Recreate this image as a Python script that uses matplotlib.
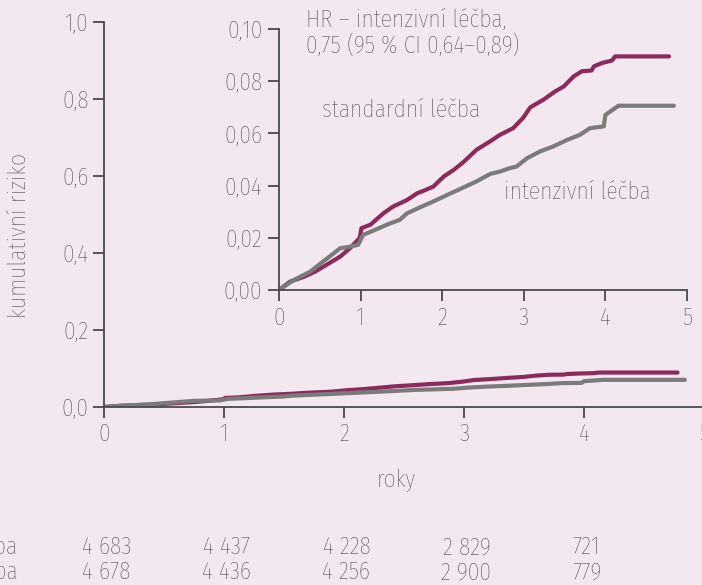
import numpy as np
import matplotlib
matplotlib.use("Agg")
import matplotlib.pyplot as plt

# cumulative risk (years, risk)
std_years = [0, 0.135, 0.30, 0.44, 0.58, 0.75, 0.87, 0.99, 1.01, 1.12, 1.28, 1.40, 1.57, 1.69,
             1.77, 1.89, 2.02, 2.14, 2.26, 2.42, 2.59, 2.71, 2.87, 2.99, 3.08, 3.24, 3.38,
             3.49, 3.61, 3.71, 3.83, 3.86, 3.96, 4.08, 4.12, 4.78]
std_risk = [0, 0.0032, 0.0050, 0.0070, 0.0096, 0.0128, 0.0160, 0.0200, 0.0237, 0.0250, 0.0294,
            0.0320, 0.0345, 0.0370, 0.0380, 0.0396, 0.0435, 0.0460, 0.0490, 0.0537, 0.0570,
            0.0595, 0.0620, 0.0659, 0.0700, 0.0729, 0.0760, 0.0780, 0.0818, 0.0838, 0.0841,
            0.0857, 0.0870, 0.0879, 0.0895, 0.0895]

int_years = [0, 0.18, 0.38, 0.54, 0.75, 0.87, 0.97, 1.03, 1.16, 1.32, 1.48, 1.57, 1.73, 1.89,
             2.06, 2.22, 2.42, 2.59, 2.71, 2.83, 2.91, 3.04, 3.20, 3.36, 3.53, 3.69, 3.81,
             3.98, 4.00, 4.06, 4.16, 4.84]
int_risk = [0, 0.0038, 0.0070, 0.0109, 0.0160, 0.0166, 0.0173, 0.0211, 0.0228, 0.0250, 0.0269,
            0.0294, 0.0317, 0.0339, 0.0364, 0.0387, 0.0416, 0.0445, 0.0454, 0.0467, 0.0473,
            0.0505, 0.0531, 0.0550, 0.0575, 0.0595, 0.0620, 0.0627, 0.0671, 0.0684, 0.0706,
            0.0706]

# numbers at risk
risk_years = [0, 1, 2, 3, 4]
at_risk_std = ["4 683", "4 437", "4 228", "2 829", "721"]
at_risk_int = ["4 678", "4 436", "4 256", "2 900", "779"]
group_labels = ["standardní léčba", "intenzivní léčba"]

bg = "#f3e8ef"
col_std = "#8c2a5c"
col_int = "#7b7b7b"
txt = "#3a3a3a"
axcol = "#4a4a4a"
fs = 17

plt.rcParams['font.family'] = ['Fira Sans Condensed', 'Roboto Condensed', 'DejaVu Sans']
plt.rcParams['font.weight'] = 'light'
plt.rcParams['text.color'] = txt
plt.rcParams['xtick.color'] = axcol
plt.rcParams['ytick.color'] = axcol
plt.rcParams['xtick.labelcolor'] = txt
plt.rcParams['ytick.labelcolor'] = txt

fig = plt.figure(figsize=(7.02, 5.85), dpi=100, facecolor=bg)

# main axes
ax = fig.add_axes([104/702, 1 - 407/585, 600/702, 385/585])
ax.set_facecolor(bg)
ax.plot(std_years, std_risk, color=col_std, lw=3, solid_capstyle='round')
ax.plot(int_years, int_risk, color=col_int, lw=3, solid_capstyle='round')
ax.set_xlim(0, 5)
ax.set_ylim(0, 1.0)
ax.set_xticks([0, 1, 2, 3, 4, 5])
ax.set_yticks([0, 0.2, 0.4, 0.6, 0.8, 1.0])
ax.set_yticklabels(["0,0", "0,2", "0,4", "0,6", "0,8", "1,0"])
for s in ["top", "right"]:
    ax.spines[s].set_visible(False)
for s in ["left", "bottom"]:
    ax.spines[s].set_color(axcol)
    ax.spines[s].set_linewidth(1.3)
ax.tick_params(length=8, width=1.3, labelsize=fs, pad=3)

ax.text(2.43, -0.19, "roky", ha='center', va='center', fontsize=fs)
fig.text(19/702, 1 - 235/585, "kumulativní riziko", rotation=90,
         ha='center', va='center', fontsize=fs)

# numbers at risk table
for i, x in enumerate(risk_years):
    ax.text(x + 0.02, -0.365, at_risk_std[i], ha='center', va='center', fontsize=fs)
    ax.text(x + 0.02, -0.43, at_risk_int[i], ha='center', va='center', fontsize=fs)
ax.text(-0.72, -0.365, group_labels[0], ha='right', va='center', fontsize=fs)
ax.text(-0.72, -0.43, group_labels[1], ha='right', va='center', fontsize=fs)

# inset
ins = fig.add_axes([279/702, 1 - 290/585, 408/702, 261/585])
ins.set_facecolor('none')
ins.plot(std_years, std_risk, color=col_std, lw=3, solid_capstyle='round')
ins.plot(int_years, int_risk, color=col_int, lw=3, solid_capstyle='round')
ins.set_xlim(0, 5)
ins.set_ylim(0, 0.10)
ins.set_xticks([0, 1, 2, 3, 4, 5])
ins.set_yticks([0, 0.02, 0.04, 0.06, 0.08, 0.10])
ins.set_yticklabels(["0,00", "0,02", "0,04", "0,06", "0,08", "0,10"])
for s in ["top", "right"]:
    ins.spines[s].set_visible(False)
for s in ["left", "bottom"]:
    ins.spines[s].set_color(axcol)
    ins.spines[s].set_linewidth(1.3)
ins.tick_params(length=8, width=1.3, labelsize=fs, pad=4)

ins.text(0.33, 0.0985, "HR – intenzivní léčba,\n0,75 (95 % CI 0,64–0,89)",
         ha='left', va='center', fontsize=fs, linespacing=1.15)
ins.text(0.53, 0.069, "standardní léčba", ha='left', va='center', fontsize=fs)
ins.text(2.76, 0.0375, "intenzivní léčba", ha='left', va='center', fontsize=fs)

fig.savefig("out.png", dpi=100, facecolor=bg)
